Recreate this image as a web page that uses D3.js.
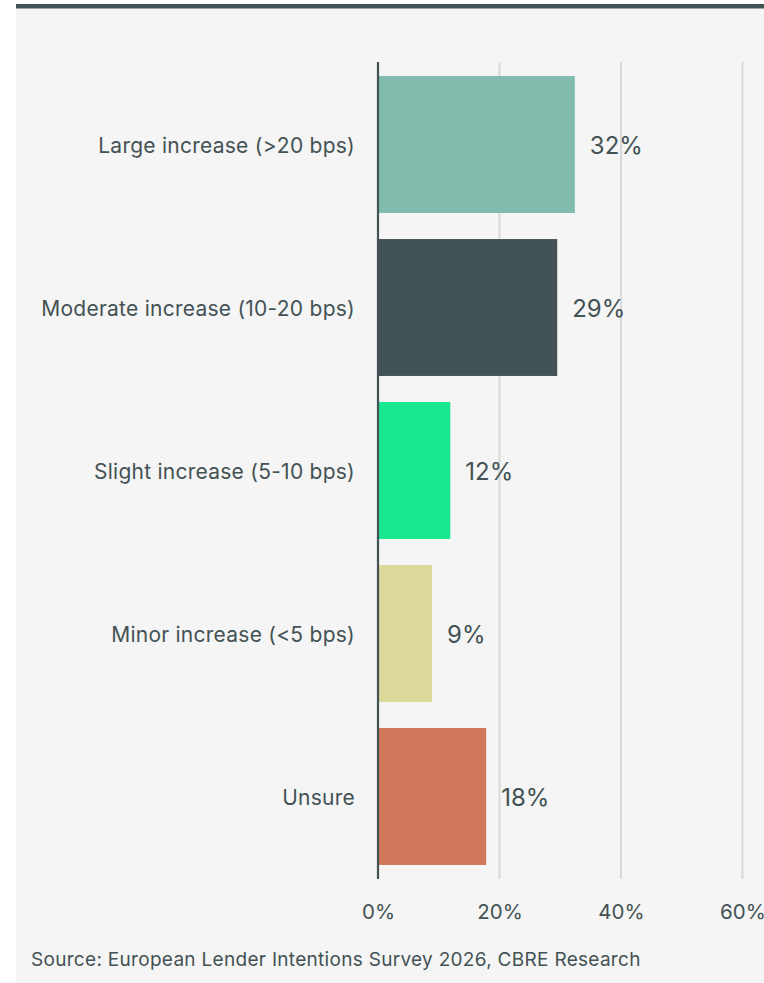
<!DOCTYPE html>
<html>
<head>
<meta charset="utf-8">
<script src="https://cdn.jsdelivr.net/npm/d3@7"></script>
<style>
  html, body { margin: 0; padding: 0; background: #ffffff; }
  svg { display: block; }
  text { font-family: "Inter", "Roboto", sans-serif; fill: #435254; }
</style>
</head>
<body>
<script>
const categories = [
  "Large increase (>20 bps)",
  "Moderate increase (10-20 bps)",
  "Slight increase (5-10 bps)",
  "Minor increase (<5 bps)",
  "Unsure"
];
const values = [32.4, 29.5, 11.9, 8.9, 17.8];
const valueLabels = ["32%", "29%", "12%", "9%", "18%"];
const colors = ["#80bbad", "#435254", "#17e88f", "#dbd99a", "#d2785a"];
const tickValues = [0, 20, 40, 60];
const sourceText = "Source: European Lender Intentions Survey 2026, CBRE Research";

const W = 764, H = 983;
const svg = d3.select("body").append("svg").attr("width", W).attr("height", H);

// panel
svg.append("rect").attr("x", 16).attr("y", 4).attr("width", W - 16).attr("height", H - 4).attr("fill", "#f5f5f5");
svg.append("rect").attr("x", 16).attr("y", 4).attr("width", W - 16).attr("height", 4.5).attr("fill", "#435254");

const x = d3.scaleLinear().domain([0, 60]).range([378, 742.5]);
const y = d3.scaleBand().domain(categories).range([63, 878]).paddingInner(0.16).paddingOuter(0.08);

// gridlines
svg.append("g").selectAll("line").data(tickValues.filter(d => d > 0)).join("line")
  .attr("x1", d => x(d)).attr("x2", d => x(d))
  .attr("y1", 62).attr("y2", 879)
  .attr("stroke", "#d9d9d9").attr("stroke-width", 2);

// bars
svg.append("g").selectAll("rect").data(categories).join("rect")
  .attr("x", x(0))
  .attr("y", d => y(d))
  .attr("width", (d, i) => x(values[i]) - x(0))
  .attr("height", y.bandwidth())
  .attr("fill", (d, i) => colors[i]);

// zero axis
svg.append("line").attr("x1", x(0)).attr("x2", x(0)).attr("y1", 62).attr("y2", 879)
  .attr("stroke", "#435254").attr("stroke-width", 2.2);

// category labels
svg.append("g").selectAll("text").data(categories).join("text")
  .attr("x", 355)
  .attr("y", d => y(d) + y.bandwidth() / 2 + 1)
  .attr("dy", "0.35em")
  .attr("text-anchor", "end")
  .style("font-size", "21px")
  .style("letter-spacing", "0.25px")
  .text(d => d);

// value labels
svg.append("g").selectAll("text").data(categories).join("text")
  .attr("x", (d, i) => x(values[i]) + 15)
  .attr("y", d => y(d) + y.bandwidth() / 2 + 1)
  .attr("dy", "0.35em")
  .style("font-size", "24px")
  .text((d, i) => valueLabels[i]);

// x axis tick labels
const xAxis = d3.axisBottom(x).tickValues(tickValues).tickFormat(d => d + "%").tickSize(0).tickPadding(0);
const gx = svg.append("g").attr("transform", "translate(0,912)").call(xAxis);
gx.select(".domain").remove();
gx.selectAll("text").attr("y", 0).attr("dy", "0.35em").style("font-size", "20.5px").attr("fill", "#435254").style("font-family", "Inter, Roboto, sans-serif");

// source
svg.append("text").attr("x", 31).attr("y", 959).attr("dy", "0.35em")
  .style("font-size", "19px").style("letter-spacing", "0.3px").text(sourceText);
</script>
</body>
</html>
